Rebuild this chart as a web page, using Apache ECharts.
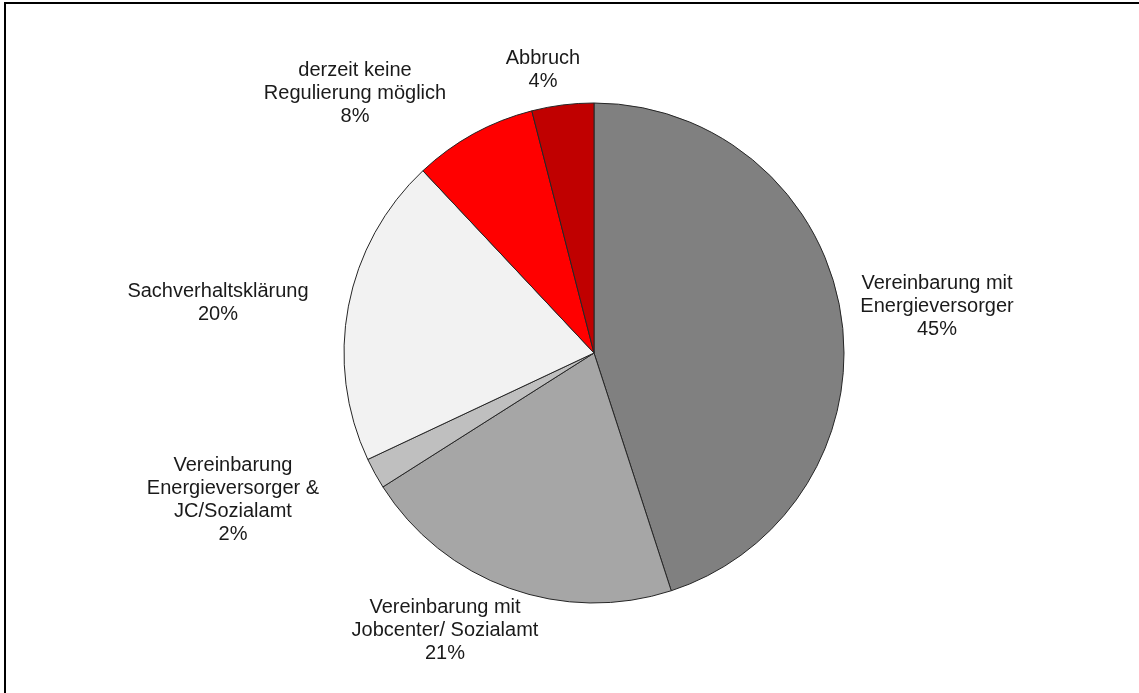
<!DOCTYPE html>
<html>
<head>
<meta charset="utf-8">
<style>
  html, body { margin: 0; padding: 0; background: #ffffff; }
  #chart { width: 1139px; height: 693px; }
</style>
<script src="https://cdn.jsdelivr.net/npm/echarts@6/dist/echarts.min.js"></script>
</head>
<body>
<div id="chart"></div>
<script>
// Outcome categories (clockwise from 12 o'clock) and their shares in percent
const categories = [
  'Vereinbarung mit\nEnergieversorger',
  'Vereinbarung mit\nJobcenter/ Sozialamt',
  'Vereinbarung\nEnergieversorger &\nJC/Sozialamt',
  'Sachverhaltsklärung',
  'derzeit keine\nRegulierung möglich',
  'Abbruch'
];
const shares = [45, 21, 2, 20, 8, 4];

// Slice fills
const sliceColors = ['#808080', '#a6a6a6', '#bfbfbf', '#f2f2f2', '#ff0000', '#c00000'];

// Label anchor points (centre of each text block, in pixels)
const labelAnchors = [
  [937, 306],
  [445, 630],
  [233, 500],
  [218, 303],
  [355, 93],
  [543, 70]
];

const chart = echarts.init(document.getElementById('chart'), null, { renderer: 'canvas' });

chart.setOption({
  backgroundColor: '#ffffff',
  animation: false,
  graphic: [{
    type: 'rect',
    shape: { x: 5, y: 3, width: 1400, height: 900 },
    style: { fill: 'none', stroke: '#000000', lineWidth: 2 },
    silent: true,
    z: 10
  }],
  series: [{
    type: 'pie',
    center: [594, 353],
    radius: 250,
    startAngle: 90,
    clockwise: true,
    avoidLabelOverlap: false,
    data: categories.map((name, i) => ({
      name: name,
      value: shares[i],
      itemStyle: { color: sliceColors[i] }
    })),
    itemStyle: { borderColor: '#262626', borderWidth: 1 },
    label: {
      show: true,
      position: 'outside',
      formatter: p => p.name + '\n' + p.value + '%',
      fontFamily: 'Liberation Sans, Arial, sans-serif',
      fontSize: 20,
      lineHeight: 23,
      color: '#1a1a1a',
      align: 'center'
    },
    labelLine: { show: false },
    labelLayout: params => ({
      x: labelAnchors[params.dataIndex][0],
      y: labelAnchors[params.dataIndex][1],
      align: 'center',
      verticalAlign: 'middle'
    }),
    emphasis: { disabled: true }
  }]
});
</script>
</body>
</html>
